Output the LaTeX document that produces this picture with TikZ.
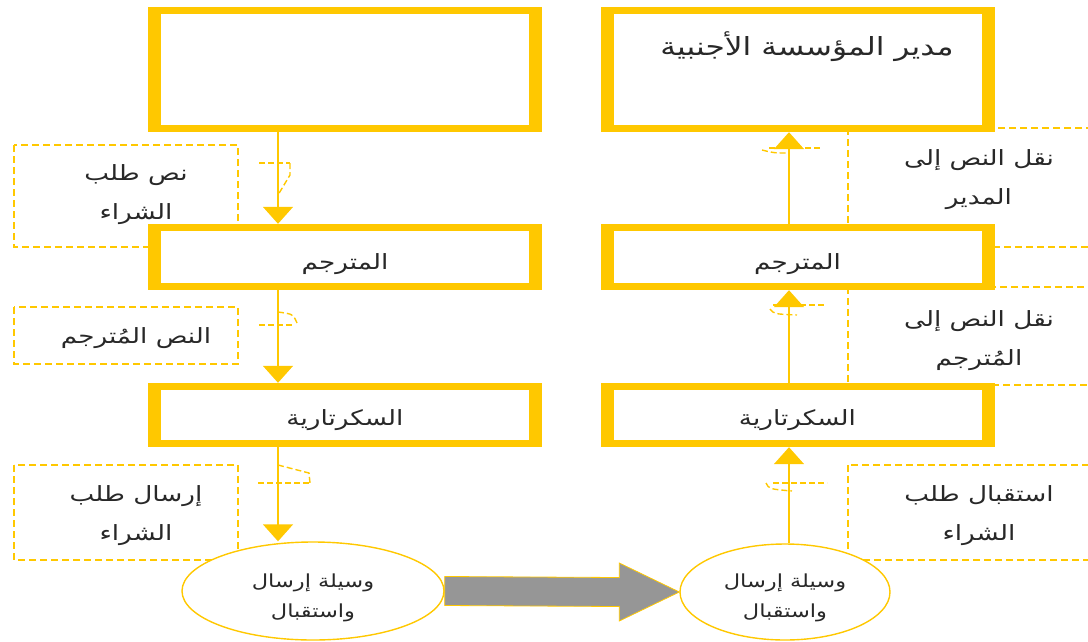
\documentclass[tikz,border=0pt]{standalone}
\usepackage{fontspec}
\usetikzlibrary{arrows.meta,shapes.geometric,calc}
\TeXXeTstate=1
\newfontfamily\arabicfont[Script=Arabic,FakeStretch=1.25]{DejaVu Sans}
\definecolor{gold}{RGB}{255,200,0}
\definecolor{arrowgray}{RGB}{150,150,150}
\definecolor{ink}{RGB}{40,40,40}
% lower a text line without changing the size the node reserves for it
\newcommand{\lowered}[2]{\raisebox{-#1pt}[\height][\depth]{#2}}

\begin{document}
\begin{tikzpicture}[x=1pt,y=-1pt,
  mainbox/.style={rectangle, fill=gold, inner sep=0pt, minimum width=394pt,
    text=ink, font=\arabicfont\fontsize{21}{26}\selectfont,
    path picture={\fill[white] ($(path picture bounding box.south west)+(13,-7)$)
      rectangle ($(path picture bounding box.north east)+(-13,7)$);}},
  notebox/.style={draw=gold, line width=1.4pt, dash pattern=on 7pt off 4pt},
  notetext/.style={text=ink, align=center, font=\arabicfont\fontsize{21}{39}\selectfont},
  medium/.style={ellipse, draw=gold, line width=1.4pt, fill=white, inner sep=0pt,
    text=ink, align=center, font=\arabicfont\fontsize{18}{30}\selectfont},
  conn/.style={draw=gold, line width=1.6pt, -{Triangle[width=30pt,length=17pt]}},
  pathmark/.style={draw=gold, line width=1.4pt, dash pattern=on 6pt off 3pt},
  bigarrow/.style={fill=arrowgray, draw=gold, line width=0.8pt},
  boxtext/.style={text=ink, font=\arabicfont\fontsize{25}{28}\selectfont}]

\useasboundingbox (0,0) rectangle (1088,641);
\clip (0,0) rectangle (1088,641);

% dashed annotation frames (behind the main boxes)
\draw[notebox] (14,145) rectangle (238,247);
\draw[notebox] (14,307) rectangle (238,364);
\draw[notebox] (14,465) rectangle (238,560);
\draw[notebox] (848,128) rectangle (1110,247);
\draw[notebox] (848,287) rectangle (1110,385);
\draw[notebox] (848,465) rectangle (1110,560);

\node[notetext] (n1) at (136,195) {\beginR نص طلب\endR\\\beginR الشراء\endR};
\node[notetext] (n2) at (136,338) {\beginR النص المُترجم\endR};
\node[notetext] (n3) at (136,516) {\beginR إرسال طلب\endR\\\beginR الشراء\endR};
\node[notetext] (n4) at (979,180) {\beginR نقل النص إلى\endR\\\beginR المدير\endR};
\node[notetext] (n5) at (979,341) {\beginR نقل النص إلى\endR\\\beginR المُترجم\endR};
\node[notetext] (n6) at (979,516) {\beginR استقبال طلب\endR\\\beginR الشراء\endR};

% left column: sender side
\node[mainbox, minimum height=125pt] (lt) at (345,69.5) {};
\node[mainbox, minimum height=66pt] (lm) at (345,257) {\lowered{7}{\beginR المترجم\endR}};
\node[mainbox, minimum height=64pt] (ls) at (345,415) {\lowered{5}{\beginR السكرتارية\endR}};
\node[medium, minimum width=262pt, minimum height=98pt] (le) at (313,591)
  {\lowered{7}{\beginR وسيلة إرسال\endR}\\\lowered{7}{\beginR واستقبال\endR}};

% right column: receiver side
\node[mainbox, minimum height=125pt] (rt) at (797.5,69.5) {};
\node[boxtext] (rtt) at (807,47) {\beginR مدير المؤسسة الأجنبية\endR};
\node[mainbox, minimum height=66pt] (rm) at (797.5,257) {\lowered{7}{\beginR المترجم\endR}};
\node[mainbox, minimum height=64pt] (rs) at (797.5,415) {\lowered{5}{\beginR السكرتارية\endR}};
\node[medium, minimum width=210pt, minimum height=96pt] (re) at (785,592)
  {\lowered{6}{\beginR وسيلة إرسال\endR}\\\lowered{6}{\beginR واستقبال\endR}};

% connector columns
\coordinate (lx1) at ($(lt.south)+(-67,0)$);
\coordinate (lx2) at ($(lm.south)+(-67,0)$);
\coordinate (lx3) at ($(ls.south)+(-67,0)$);
\coordinate (rx1) at ($(rm.north)+(-8.5,0)$);
\coordinate (rx2) at ($(rs.north)+(-8.5,0)$);
\coordinate (rx3) at ($(rs.south)+(-8.5,0)$);

\draw[conn] (lx1) -- (lx1 |- lm.north);
\draw[conn] (lx2) -- (lx2 |- ls.north);
\draw[conn] (lx3) -- (lx3 |- le.north);
\draw[conn] (rx1) -- (rx1 |- rt.south);
\draw[conn] (rx2) -- (rx2 |- rm.south);
\draw[conn] (rx3 |- re.north) -- (rx3);

% communication-path marks on the connectors
\begin{scope}[shift={(278,163)}]
  \draw[pathmark] (-19,0) -- (12,0);
  \draw[pathmark] (12,0) -- (12,12) -- (0,32);
\end{scope}
\begin{scope}[shift={(278,325)}]
  \draw[pathmark] (-19,0) -- (15,0);
  \draw[pathmark] (0,-13) .. controls (15,-11) .. (19,-2);
\end{scope}
\begin{scope}[shift={(278,483)}]
  \draw[pathmark] (-20,0) -- (33,0);
  \draw[pathmark] (0,-18) -- (31,-10) -- (32,0);
\end{scope}
\begin{scope}[shift={(789,148)}]
  \draw[pathmark] (-20,0) -- (31,0);
  \draw[pathmark] (-27,2) .. controls (-15,5) .. (0,5);
\end{scope}
\begin{scope}[shift={(789,305)}]
  \draw[pathmark] (-16,0) -- (36,0);
  \draw[pathmark] (-19,4) .. controls (-15,9) .. (8,10);
\end{scope}
\begin{scope}[shift={(789,483)}]
  \draw[pathmark] (-16,0) -- (38,0);
  \draw[pathmark] (-23,0) .. controls (-20,6) .. (3,8);
\end{scope}

% transfer between the two media
\draw[bigarrow] ($(le.east)+(0,-14.5)$) -- ($(re.west)+(-60,-14.5)$)
  -- ($(re.west)+(-60,-29)$) -- (re.west) -- ($(re.west)+(-60,29)$)
  -- ($(re.west)+(-60,14.5)$) -- ($(le.east)+(0,14.5)$) -- cycle;
\end{tikzpicture}
\end{document}
